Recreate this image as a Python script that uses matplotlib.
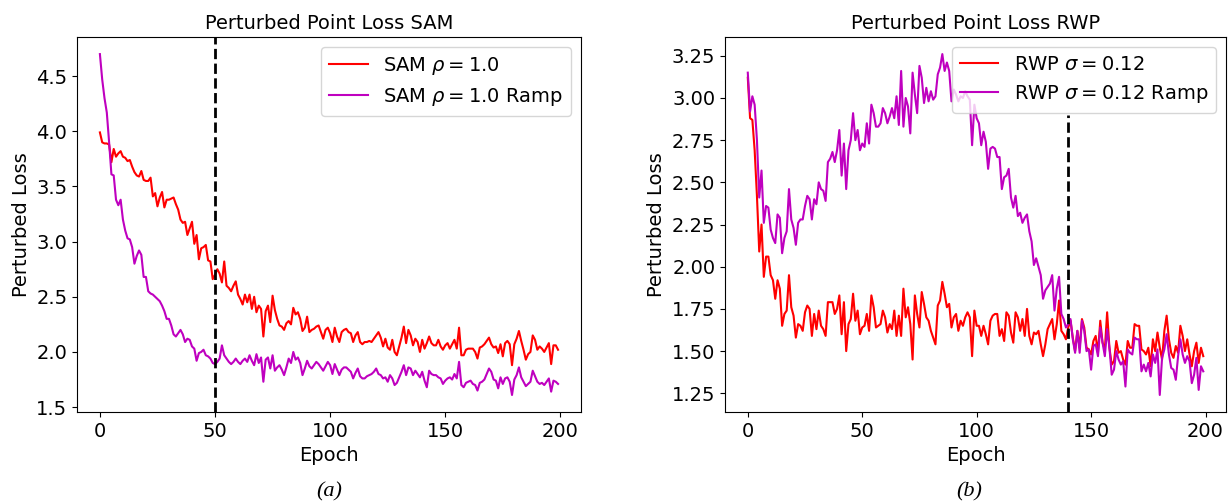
import matplotlib
matplotlib.use("Agg")
import matplotlib.pyplot as plt
import numpy as np

plt.rcParams['font.size'] = 14
plt.rcParams['axes.titlesize'] = 14

# SAM run, rho = 1.0 (perturbed loss per epoch)
sam_loss = [
    3.99, 3.90, 3.89, 3.89, 3.88, 3.72, 3.84, 3.77, 3.80, 3.82,
    3.77, 3.76, 3.73, 3.74, 3.68, 3.63, 3.60, 3.59, 3.64, 3.56,
    3.55, 3.55, 3.58, 3.41, 3.44, 3.32, 3.40, 3.45, 3.31, 3.38,
    3.38, 3.39, 3.40, 3.34, 3.29, 3.20, 3.17, 3.18, 3.06, 3.12,
    3.18, 2.98, 3.06, 2.84, 2.94, 2.95, 2.97, 2.83, 2.82, 2.66,
    2.70, 2.75, 2.71, 2.63, 2.82, 2.60, 2.58, 2.55, 2.60, 2.64,
    2.52, 2.48, 2.43, 2.52, 2.45, 2.52, 2.39, 2.50, 2.36, 2.42,
    2.39, 2.14, 2.37, 2.42, 2.27, 2.51, 2.38, 2.30, 2.24, 2.23,
    2.20, 2.26, 2.28, 2.25, 2.40, 2.34, 2.36, 2.30, 2.19, 2.22,
    2.32, 2.18, 2.20, 2.21, 2.23, 2.24, 2.18, 2.12, 2.20, 2.22,
    2.17, 2.09, 2.22, 2.14, 2.09, 2.18, 2.20, 2.21, 2.18, 2.17,
    2.09, 2.15, 2.18, 2.09, 2.07, 2.09, 2.09, 2.10, 2.09, 2.12,
    2.15, 2.18, 2.13, 2.05, 2.12, 2.04, 2.02, 2.11, 2.00, 1.97,
    2.05, 2.13, 2.23, 2.08, 2.20, 2.15, 2.06, 2.12, 2.09, 2.00,
    2.11, 2.03, 2.08, 2.14, 2.08, 2.06, 2.06, 2.11, 2.05, 2.02,
    2.06, 2.08, 2.03, 2.07, 2.11, 2.03, 2.22, 1.97, 1.97, 2.02,
    2.03, 2.03, 2.03, 2.00, 1.94, 2.04, 2.05, 2.07, 2.10, 2.13,
    2.07, 2.04, 2.05, 1.99, 2.07, 1.96, 2.08, 2.10, 2.07, 1.88,
    2.07, 2.12, 2.19, 2.10, 2.02, 1.93, 1.98, 2.00, 2.15, 2.11,
    2.02, 2.05, 2.03, 2.00, 2.04, 2.08, 1.89, 2.06, 2.06, 2.02,
]

# SAM run with ramp
sam_ramp_loss = [
    4.70, 4.47, 4.30, 4.17, 3.90, 3.61, 3.60, 3.38, 3.33, 3.38,
    3.20, 3.10, 3.03, 3.02, 2.95, 2.80, 2.87, 2.92, 2.88, 2.68,
    2.68, 2.55, 2.53, 2.52, 2.50, 2.48, 2.46, 2.42, 2.37, 2.30,
    2.30, 2.24, 2.16, 2.14, 2.17, 2.20, 2.16, 2.09, 2.12, 2.11,
    2.05, 2.03, 1.92, 1.99, 2.00, 2.02, 1.97, 1.96, 1.94, 1.90,
    1.89, 1.91, 1.94, 2.06, 1.97, 1.94, 1.91, 1.89, 1.91, 1.94,
    1.91, 1.89, 1.92, 1.94, 1.91, 1.97, 1.92, 1.88, 1.98, 1.90,
    1.95, 1.73, 1.93, 1.95, 1.85, 1.97, 1.83, 1.86, 1.88, 1.84,
    1.79, 1.86, 1.94, 1.90, 2.00, 1.93, 1.95, 1.90, 1.79, 1.85,
    1.92, 1.87, 1.85, 1.88, 1.91, 1.89, 1.86, 1.83, 1.87, 1.91,
    1.88, 1.80, 1.89, 1.84, 1.79, 1.84, 1.86, 1.86, 1.84, 1.82,
    1.76, 1.81, 1.85, 1.78, 1.76, 1.76, 1.78, 1.79, 1.80, 1.82,
    1.85, 1.80, 1.79, 1.76, 1.77, 1.73, 1.79, 1.76, 1.70, 1.72,
    1.77, 1.82, 1.88, 1.79, 1.86, 1.85, 1.79, 1.83, 1.80, 1.77,
    1.82, 1.74, 1.68, 1.83, 1.80, 1.79, 1.79, 1.77, 1.76, 1.71,
    1.74, 1.76, 1.77, 1.75, 1.80, 1.76, 1.91, 1.70, 1.68, 1.72,
    1.73, 1.74, 1.71, 1.70, 1.65, 1.72, 1.73, 1.75, 1.80, 1.85,
    1.82, 1.75, 1.74, 1.67, 1.77, 1.71, 1.76, 1.77, 1.73, 1.61,
    1.75, 1.79, 1.86, 1.77, 1.73, 1.69, 1.71, 1.73, 1.83, 1.78,
    1.73, 1.71, 1.72, 1.70, 1.73, 1.76, 1.64, 1.74, 1.73, 1.71,
]

# RWP run, sigma = 0.12
rwp_loss = [
    3.12, 2.88, 2.87, 2.69, 2.42, 2.09, 2.25, 1.94, 2.06, 2.06,
    1.95, 1.92, 1.81, 1.92, 1.87, 1.65, 1.72, 1.74, 1.95, 1.76,
    1.71, 1.58, 1.66, 1.65, 1.62, 1.73, 1.77, 1.75, 1.59, 1.72,
    1.63, 1.74, 1.65, 1.63, 1.59, 1.79, 1.79, 1.79, 1.72, 1.75,
    1.83, 1.60, 1.79, 1.50, 1.66, 1.69, 1.84, 1.68, 1.74, 1.60,
    1.64, 1.65, 1.72, 1.62, 1.83, 1.76, 1.64, 1.65, 1.66, 1.74,
    1.70, 1.61, 1.66, 1.63, 1.74, 1.59, 1.71, 1.59, 1.87, 1.70,
    1.76, 1.66, 1.45, 1.83, 1.72, 1.64, 1.85, 1.78, 1.70, 1.68,
    1.62, 1.58, 1.54, 1.77, 1.80, 1.91, 1.84, 1.76, 1.78, 1.64,
    1.70, 1.72, 1.62, 1.68, 1.65, 1.70, 1.73, 1.70, 1.47, 1.74,
    1.65, 1.65, 1.59, 1.65, 1.60, 1.54, 1.68, 1.71, 1.72, 1.72,
    1.59, 1.63, 1.56, 1.73, 1.71, 1.61, 1.55, 1.73, 1.70, 1.62,
    1.69, 1.59, 1.75, 1.59, 1.54, 1.61, 1.60, 1.62, 1.54, 1.47,
    1.54, 1.63, 1.66, 1.69, 1.57, 1.66, 1.80, 1.62, 1.60, 1.57,
    1.64, 1.68, 1.58, 1.50, 1.62, 1.52, 1.69, 1.64, 1.52, 1.51,
    1.48, 1.56, 1.59, 1.49, 1.68, 1.55, 1.51, 1.73, 1.52, 1.42,
    1.44, 1.56, 1.49, 1.50, 1.45, 1.42, 1.56, 1.52, 1.52, 1.66,
    1.65, 1.65, 1.51, 1.50, 1.48, 1.52, 1.41, 1.57, 1.50, 1.61,
    1.52, 1.45, 1.62, 1.71, 1.57, 1.49, 1.46, 1.53, 1.49, 1.65,
    1.59, 1.50, 1.57, 1.48, 1.41, 1.50, 1.55, 1.43, 1.52, 1.47,
]

# RWP run with ramp
rwp_ramp_loss = [
    3.15, 2.92, 3.01, 2.96, 2.75, 2.41, 2.57, 2.26, 2.36, 2.35,
    2.22, 2.17, 2.14, 2.31, 2.29, 2.08, 2.17, 2.21, 2.46, 2.28,
    2.23, 2.13, 2.26, 2.28, 2.28, 2.36, 2.42, 2.40, 2.28, 2.40,
    2.37, 2.50, 2.46, 2.45, 2.39, 2.62, 2.64, 2.68, 2.62, 2.69,
    2.81, 2.54, 2.73, 2.46, 2.69, 2.75, 2.91, 2.75, 2.81, 2.69,
    2.73, 2.71, 2.85, 2.73, 2.96, 2.91, 2.83, 2.83, 2.85, 2.94,
    2.91, 2.85, 2.89, 2.94, 2.88, 3.01, 2.84, 3.16, 2.83, 3.00,
    2.95, 2.79, 3.15, 3.02, 2.91, 3.19, 3.12, 2.97, 3.06, 2.98,
    3.04, 2.99, 3.01, 3.14, 3.18, 3.26, 3.16, 3.21, 3.16, 2.98,
    3.05, 3.02, 2.98, 3.01, 3.00, 3.04, 3.01, 2.99, 2.72, 2.96,
    2.88, 2.85, 2.72, 2.80, 2.74, 2.58, 2.70, 2.71, 2.70, 2.65,
    2.65, 2.46, 2.53, 2.54, 2.58, 2.41, 2.35, 2.42, 2.30, 2.32,
    2.26, 2.29, 2.31, 2.21, 2.15, 2.01, 2.05, 2.00, 1.95, 1.81,
    1.86, 1.88, 1.90, 1.95, 1.74, 1.87, 1.94, 1.72, 1.69, 1.64,
    1.66, 1.69, 1.57, 1.49, 1.62, 1.49, 1.68, 1.62, 1.50, 1.51,
    1.39, 1.53, 1.54, 1.47, 1.64, 1.55, 1.47, 1.63, 1.52, 1.36,
    1.39, 1.50, 1.45, 1.42, 1.44, 1.29, 1.51, 1.49, 1.48, 1.58,
    1.57, 1.57, 1.38, 1.42, 1.38, 1.43, 1.35, 1.48, 1.43, 1.51,
    1.24, 1.46, 1.51, 1.60, 1.48, 1.40, 1.39, 1.33, 1.47, 1.57,
    1.48, 1.43, 1.47, 1.44, 1.31, 1.36, 1.46, 1.27, 1.41, 1.38,
]

epoch_ticks = [0, 50, 100, 150, 200]
sam_switch = 50
rwp_switch = 140

fig = plt.figure(figsize=(12.28, 5.04), dpi=100)
ax1 = fig.add_axes([0.0627, 0.1825, 0.4104, 0.744])
ax2 = fig.add_axes([0.5904, 0.1825, 0.4080, 0.744])

ax1.plot(np.arange(len(sam_loss)), sam_loss, color='r', label=r'SAM $\rho = 1.0$')
ax1.plot(np.arange(len(sam_ramp_loss)), sam_ramp_loss, color='m', label=r'SAM $\rho = 1.0$ Ramp')
ax1.axvline(sam_switch, color='k', linestyle='--', linewidth=2)
ax1.set_xticks(epoch_ticks)
ax1.set_title('Perturbed Point Loss SAM')
ax1.set_xlabel('Epoch')
ax1.set_ylabel('Perturbed Loss')
ax1.legend(loc='upper right')

ax2.plot(np.arange(len(rwp_loss)), rwp_loss, color='r', label=r'RWP $\sigma = 0.12$')
ax2.plot(np.arange(len(rwp_ramp_loss)), rwp_ramp_loss, color='m', label=r'RWP $\sigma = 0.12$ Ramp')
ax2.set_yticks([1.25, 1.5, 1.75, 2.0, 2.25, 2.5, 2.75, 3.0, 3.25])
ax2.set_xticks(epoch_ticks)
lo, hi = ax2.get_ylim()
ax2.vlines(rwp_switch, lo, 2.9, color='k', linestyle='--', linewidth=2)
ax2.set_ylim(lo, hi)
ax2.set_title('Perturbed Point Loss RWP')
ax2.set_xlabel('Epoch')
ax2.set_ylabel('Perturbed Loss')
ax2.legend(loc='upper right')

fig.text(0.268, 0.015, '(a)', ha='center', fontsize=16, style='italic', family='Liberation Serif')
fig.text(0.789, 0.015, '(b)', ha='center', fontsize=16, style='italic', family='Liberation Serif')

plt.savefig('out.png', dpi=100)
